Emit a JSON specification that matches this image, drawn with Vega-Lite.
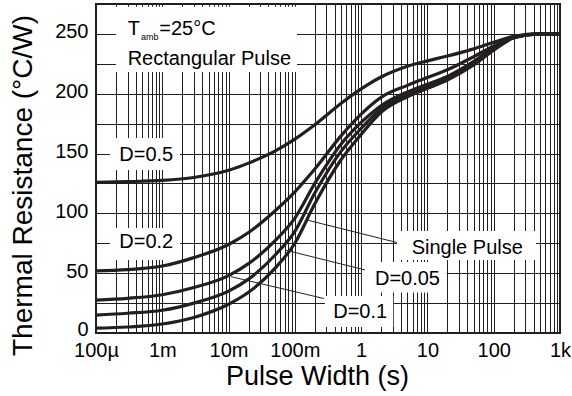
{
  "$schema": "https://vega.github.io/schema/vega-lite/v6.json",
  "width": 464,
  "height": 329,
  "autosize": {"type": "none"},
  "padding": {"left": 96, "top": 4, "right": 12, "bottom": 63},
  "background": "white",
  "config": {"view": {"stroke": "#231f20", "strokeWidth": 2}, "font": "Liberation Sans"},
  "datasets": {
    "curves": [
      {"curve": "D=0.5", "x": 0.0001, "y": 126}, {"curve": "D=0.5", "x": 0.0003, "y": 126.5}, {"curve": "D=0.5", "x": 0.001, "y": 127.5}, {"curve": "D=0.5", "x": 0.003, "y": 130}, {"curve": "D=0.5", "x": 0.01, "y": 136}, {"curve": "D=0.5", "x": 0.02, "y": 142}, {"curve": "D=0.5", "x": 0.05, "y": 152}, {"curve": "D=0.5", "x": 0.1, "y": 162}, {"curve": "D=0.5", "x": 0.2, "y": 174}, {"curve": "D=0.5", "x": 0.5, "y": 192}, {"curve": "D=0.5", "x": 1, "y": 204}, {"curve": "D=0.5", "x": 2, "y": 214}, {"curve": "D=0.5", "x": 5, "y": 223}, {"curve": "D=0.5", "x": 10, "y": 227.5}, {"curve": "D=0.5", "x": 20, "y": 231.5}, {"curve": "D=0.5", "x": 50, "y": 237.5}, {"curve": "D=0.5", "x": 100, "y": 243}, {"curve": "D=0.5", "x": 200, "y": 248}, {"curve": "D=0.5", "x": 500, "y": 250}, {"curve": "D=0.5", "x": 1000, "y": 250},
      {"curve": "D=0.2", "x": 0.0001, "y": 52}, {"curve": "D=0.2", "x": 0.0003, "y": 53}, {"curve": "D=0.2", "x": 0.001, "y": 56}, {"curve": "D=0.2", "x": 0.003, "y": 63}, {"curve": "D=0.2", "x": 0.01, "y": 74}, {"curve": "D=0.2", "x": 0.02, "y": 84}, {"curve": "D=0.2", "x": 0.05, "y": 102}, {"curve": "D=0.2", "x": 0.1, "y": 118}, {"curve": "D=0.2", "x": 0.2, "y": 137}, {"curve": "D=0.2", "x": 0.5, "y": 165}, {"curve": "D=0.2", "x": 1, "y": 183}, {"curve": "D=0.2", "x": 2, "y": 197}, {"curve": "D=0.2", "x": 5, "y": 207}, {"curve": "D=0.2", "x": 10, "y": 213.5}, {"curve": "D=0.2", "x": 20, "y": 220}, {"curve": "D=0.2", "x": 50, "y": 231}, {"curve": "D=0.2", "x": 100, "y": 240}, {"curve": "D=0.2", "x": 200, "y": 247.5}, {"curve": "D=0.2", "x": 500, "y": 250}, {"curve": "D=0.2", "x": 1000, "y": 250},
      {"curve": "D=0.1", "x": 0.0001, "y": 27.5}, {"curve": "D=0.1", "x": 0.0003, "y": 29}, {"curve": "D=0.1", "x": 0.001, "y": 32}, {"curve": "D=0.1", "x": 0.003, "y": 38}, {"curve": "D=0.1", "x": 0.01, "y": 48}, {"curve": "D=0.1", "x": 0.02, "y": 58}, {"curve": "D=0.1", "x": 0.05, "y": 77}, {"curve": "D=0.1", "x": 0.1, "y": 96}, {"curve": "D=0.1", "x": 0.2, "y": 125}, {"curve": "D=0.1", "x": 0.5, "y": 158}, {"curve": "D=0.1", "x": 1, "y": 176}, {"curve": "D=0.1", "x": 2, "y": 190}, {"curve": "D=0.1", "x": 5, "y": 201.5}, {"curve": "D=0.1", "x": 10, "y": 208}, {"curve": "D=0.1", "x": 20, "y": 214.5}, {"curve": "D=0.1", "x": 50, "y": 227}, {"curve": "D=0.1", "x": 100, "y": 238.5}, {"curve": "D=0.1", "x": 200, "y": 247}, {"curve": "D=0.1", "x": 500, "y": 250}, {"curve": "D=0.1", "x": 1000, "y": 250},
      {"curve": "D=0.05", "x": 0.0001, "y": 15}, {"curve": "D=0.05", "x": 0.0003, "y": 16.5}, {"curve": "D=0.05", "x": 0.001, "y": 19}, {"curve": "D=0.05", "x": 0.003, "y": 25}, {"curve": "D=0.05", "x": 0.01, "y": 35}, {"curve": "D=0.05", "x": 0.02, "y": 45}, {"curve": "D=0.05", "x": 0.05, "y": 65}, {"curve": "D=0.05", "x": 0.1, "y": 85}, {"curve": "D=0.05", "x": 0.2, "y": 117}, {"curve": "D=0.05", "x": 0.5, "y": 152}, {"curve": "D=0.05", "x": 1, "y": 171}, {"curve": "D=0.05", "x": 2, "y": 187.5}, {"curve": "D=0.05", "x": 5, "y": 199.5}, {"curve": "D=0.05", "x": 10, "y": 206.5}, {"curve": "D=0.05", "x": 20, "y": 213}, {"curve": "D=0.05", "x": 50, "y": 225.5}, {"curve": "D=0.05", "x": 100, "y": 237.5}, {"curve": "D=0.05", "x": 200, "y": 247}, {"curve": "D=0.05", "x": 500, "y": 250}, {"curve": "D=0.05", "x": 1000, "y": 250},
      {"curve": "Single", "x": 0.0001, "y": 4}, {"curve": "Single", "x": 0.0003, "y": 5}, {"curve": "Single", "x": 0.001, "y": 7.5}, {"curve": "Single", "x": 0.003, "y": 13}, {"curve": "Single", "x": 0.01, "y": 24}, {"curve": "Single", "x": 0.02, "y": 34}, {"curve": "Single", "x": 0.05, "y": 54}, {"curve": "Single", "x": 0.1, "y": 75}, {"curve": "Single", "x": 0.2, "y": 108}, {"curve": "Single", "x": 0.5, "y": 145}, {"curve": "Single", "x": 1, "y": 166}, {"curve": "Single", "x": 2, "y": 184.5}, {"curve": "Single", "x": 5, "y": 197.5}, {"curve": "Single", "x": 10, "y": 204.5}, {"curve": "Single", "x": 20, "y": 211.5}, {"curve": "Single", "x": 50, "y": 224}, {"curve": "Single", "x": 100, "y": 236.5}, {"curve": "Single", "x": 200, "y": 246.5}, {"curve": "Single", "x": 500, "y": 250}, {"curve": "Single", "x": 1000, "y": 250}
    ],
    "boxes": [
      {"x": 0.0002, "x2": 0.1076, "y": 218.2, "y2": 272.6},
      {"x": 0.0001626, "x2": 0.00185, "y": 136.3, "y2": 163},
      {"x": 0.0001626, "x2": 0.00185, "y": 61, "y2": 87.8},
      {"x": 3.47, "x2": 433.5, "y": 61, "y2": 85.3},
      {"x": 1.028, "x2": 19.5, "y": 33.9, "y2": 59.4},
      {"x": 0.2844, "x2": 3.05, "y": 5, "y2": 30.9}
    ],
    "leaders": [
      {"x": 0.1507, "y": 94.5, "x2": 3.43, "y2": 75.7},
      {"x": 0.071, "y": 69.4, "x2": 1.14, "y2": 52.7},
      {"x": 0.01086, "y": 47.1, "x2": 0.2748, "y2": 28.8}
    ],
    "labels": [
      {"x": 0.0003, "y": 249.2, "label": "T"},
      {"x": 0.0009, "y": 249.2, "label": "=25°C"},
      {"x": 0.0003, "y": 224.1, "label": "Rectangular Pulse"},
      {"x": 0.0002245, "y": 144.1, "label": "D=0.5"},
      {"x": 0.0002245, "y": 70.8, "label": "D=0.2"},
      {"x": 5.78, "y": 66.1, "label": "Single Pulse"},
      {"x": 1.615, "y": 40.1, "label": "D=0.05"},
      {"x": 0.379, "y": 12.8, "label": "D=0.1"}
    ],
    "sublabels": [
      {"x": 0.000477, "y": 245, "label": "amb"}
    ]
  },
  "encoding": {
    "x": {
      "field": "x", "type": "quantitative",
      "scale": {"type": "log", "domain": [0.0001, 1000], "nice": false},
      "axis": {
        "title": "Pulse Width (s)",
        "values": [0.0001,0.0002,0.0003,0.0004,0.0005,0.0006,0.0007,0.0008,0.0009,0.001,0.002,0.003,0.004,0.005,0.006,0.007,0.008,0.009,0.01,0.02,0.03,0.04,0.05,0.06,0.07,0.08,0.09,0.1,0.2,0.3,0.4,0.5,0.6,0.7,0.8,0.9,1,2,3,4,5,6,7,8,9,10,20,30,40,50,60,70,80,90,100,200,300,400,500,600,700,800,900,1000],
        "labelExpr": "datum.value === 0.0001 ? '100µ' : datum.value === 0.001 ? '1m' : datum.value === 0.01 ? '10m' : datum.value === 0.1 ? '100m' : datum.value === 1 ? '1' : datum.value === 10 ? '10' : datum.value === 100 ? '100' : datum.value === 1000 ? '1k' : ''",
        "grid": true, "gridColor": "#231f20", "gridWidth": 1, "gridOpacity": 1,
        "ticks": false, "tickSize": 0, "domain": false,
        "labelFontSize": 20, "labelColor": "#000000", "labelPadding": 7, "labelFont": "Liberation Sans",
        "labelOverlap": false, "labelFlush": false,
        "titleFontSize": 27, "titleFontWeight": "normal", "titleColor": "#000000", "titleFont": "Liberation Sans",
        "titleX": 221, "titleY": 51, "titleBaseline": "alphabetic"
      }
    },
    "y": {
      "field": "y", "type": "quantitative",
      "scale": {"domain": [0, 275], "nice": false},
      "axis": {
        "title": "Thermal Resistance (°C/W)",
        "values": [0, 25, 50, 75, 100, 125, 150, 175, 200, 225, 250],
        "labelExpr": "datum.value % 50 === 0 ? datum.label : ''",
        "grid": true, "gridColor": "#231f20", "gridWidth": 1, "gridOpacity": 1,
        "ticks": false, "tickSize": 0, "domain": false,
        "labelFontSize": 20, "labelColor": "#000000", "labelPadding": 8, "labelFont": "Liberation Sans",
        "labelOffset": {"condition": {"test": "datum.value === 0", "value": -4}, "value": -2},
        "labelOverlap": false, "labelFlush": false,
        "titleFontSize": 28, "titleFontWeight": "normal", "titleColor": "#000000", "titleFont": "Liberation Sans",
        "titleX": -65, "titleY": 181, "titleBaseline": "alphabetic"
      }
    }
  },
  "layer": [
    {
      "data": {"name": "boxes"},
      "mark": {"type": "rect", "fill": "white", "stroke": null},
      "encoding": {"x2": {"field": "x2"}, "y2": {"field": "y2"}}
    },
    {
      "data": {"name": "leaders"},
      "mark": {"type": "rule", "color": "#231f20", "strokeWidth": 1},
      "encoding": {"x2": {"field": "x2"}, "y2": {"field": "y2"}}
    },
    {
      "data": {"name": "curves"},
      "mark": {"type": "line", "color": "#231f20", "strokeWidth": 3.2, "interpolate": "monotone"},
      "encoding": {"detail": {"field": "curve"}}
    },
    {
      "data": {"name": "labels"},
      "mark": {"type": "text", "align": "left", "baseline": "alphabetic", "fontSize": 20, "color": "#000000", "font": "Liberation Sans"},
      "encoding": {"text": {"field": "label"}}
    },
    {
      "data": {"name": "sublabels"},
      "mark": {"type": "text", "align": "left", "baseline": "alphabetic", "fontSize": 9, "color": "#000000", "font": "Liberation Sans"},
      "encoding": {"text": {"field": "label"}}
    }
  ]
}
